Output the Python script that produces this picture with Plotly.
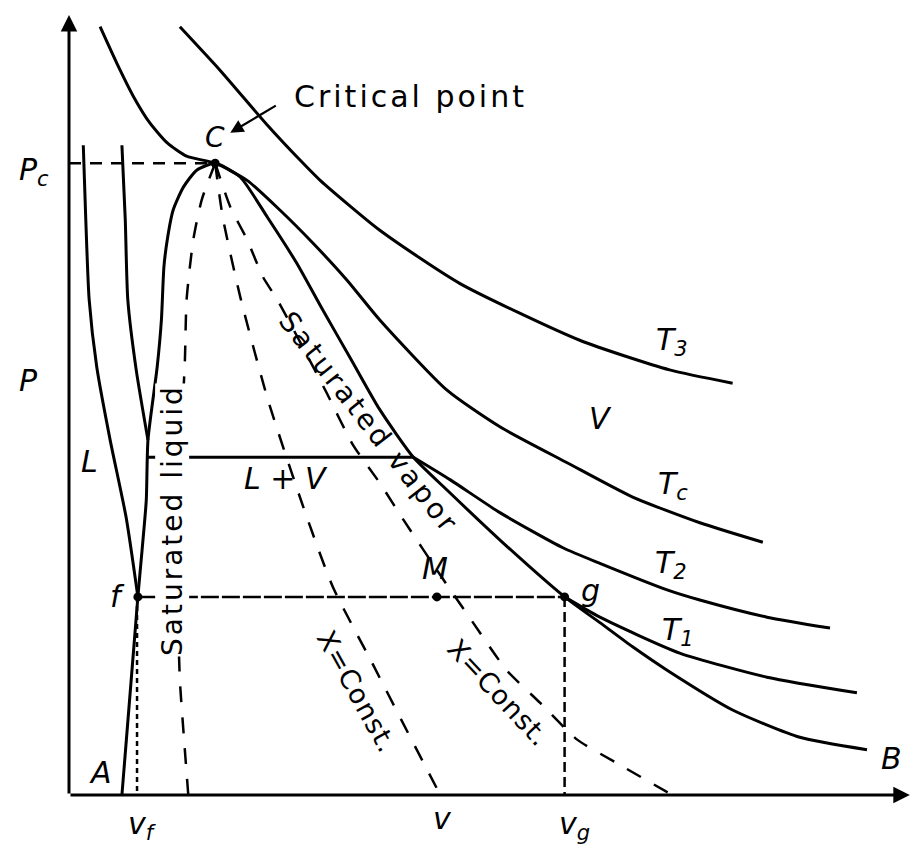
import plotly.graph_objects as go

# ---- isotherms (v, P in arbitrary units) ----
t3_v = [13.2, 18.0, 23.6, 27.5, 29.9, 37.0, 46.5, 60.8, 71.5, 79.0]
t3_p = [98.5, 92.9, 85.9, 81.4, 78.8, 72.4, 65.6, 58.3, 54.5, 52.8]

tc_v = [3.7, 5.7, 7.7, 9.6, 11.7, 14.0, 17.4, 21.2, 25.1, 29.0, 33.1, 37.0,
        45.0, 51.3, 59.3, 67.1, 75.1, 82.6]
tc_p = [98.5, 93.8, 89.5, 86.2, 83.6, 81.9, 81.0, 78.8, 75.0, 70.8, 66.0, 60.9,
        51.9, 47.2, 42.6, 38.2, 34.9, 32.4]

t2_liq_v = [6.3, 6.7, 7.0, 8.0, 9.4]
t2_liq_p = [83.3, 73.7, 63.5, 54.5, 45.5]
t2_flat_v = [9.3, 41.0]
t2_flat_p = [43.3, 43.3]
t2_vap_v = [41.0, 45.4, 51.3, 58.8, 63.2, 71.2, 75.1, 83.1, 90.6]
t2_vap_p = [43.3, 40.4, 36.2, 31.7, 29.7, 26.3, 25.0, 22.8, 21.4]

t1_liq_v = [1.7, 2.0, 2.4, 3.3, 4.9, 6.8, 8.2]
t1_liq_p = [83.3, 73.7, 63.5, 54.9, 45.5, 35.6, 25.4]
t1_flat_v = [8.2, 59.0]
t1_flat_p = [25.4, 25.4]
t1_vap_v = [59.0, 63.2, 72.7, 83.1, 93.8]
t1_vap_p = [25.4, 22.8, 18.2, 15.1, 13.1]

# ---- saturation dome A -> C -> B ----
dome_v = [6.3, 8.2, 8.7, 9.2, 9.4, 10.5, 11.0, 11.3, 11.7, 12.4, 13.6, 15.2,
          17.4, 20.4, 23.6, 27.1, 30.2, 33.5, 37.0, 41.0, 45.0, 51.7, 59.0,
          63.2, 67.1, 71.2, 79.0, 87.0, 95.0]
dome_p = [0.0, 25.4, 31.4, 37.8, 45.5, 54.9, 60.9, 67.7, 71.2, 75.0, 77.9, 80.1,
          81.0, 79.2, 74.1, 68.2, 62.2, 56.0, 49.4, 43.3, 39.1, 32.3, 25.4,
          22.1, 19.0, 16.0, 10.9, 7.4, 5.8]

# ---- constant-quality lines from the critical point ----
xa_v = [17.4, 15.8, 14.8, 14.0, 13.8, 13.3, 13.0, 13.0, 13.2, 13.7, 14.2]
xa_p = [81.0, 76.3, 71.2, 63.5, 55.8, 44.3, 31.4, 22.4, 14.7, 7.1, 0.0]
xb_v = [17.4, 18.3, 20.4, 23.7, 27.9, 31.4, 36.1, 40.2, 44.2]
xb_p = [81.0, 74.1, 63.8, 50.6, 36.9, 26.7, 16.9, 8.3, 0.0]
xc_v = [17.4, 19.2, 21.2, 23.1, 24.8, 27.5, 30.7, 33.8, 37.0, 39.8, 44.2,
        48.1, 52.1, 56.1, 60.5, 65.2, 71.8]
xc_p = [81.0, 75.4, 71.2, 66.4, 63.5, 58.1, 51.5, 44.9, 40.0, 35.3, 28.2,
        22.1, 16.0, 11.8, 7.1, 4.1, 0.0]

# ---- key states ----
crit_v, crit_p = 17.4, 81.0
vf, vg, v_mix, p_sat1 = 8.2, 59.0, 43.8, 25.4

BLACK = "black"
FONT = "DejaVu Sans"

fig = go.Figure()


def curve(v, p, width=3, dash="solid", smooth=True):
    fig.add_trace(go.Scatter(
        x=v, y=p, mode="lines", hoverinfo="skip",
        line=dict(color=BLACK, width=width, dash=dash,
                  shape="spline" if smooth else "linear", smoothing=0.6)))


# isotherms and dome
curve(t3_v, t3_p)
curve(tc_v, tc_p)
curve(dome_v, dome_p)
curve(t2_liq_v, t2_liq_p)
curve(t2_flat_v, t2_flat_p, smooth=False)
curve(t2_vap_v, t2_vap_p)
curve(t1_liq_v, t1_liq_p)
curve(t1_flat_v, t1_flat_p, width=2.5, dash="18px,3px", smooth=False)
curve(t1_vap_v, t1_vap_p)

# quality lines
for qv, qp in [(xa_v, xa_p), (xb_v, xb_p), (xc_v, xc_p)]:
    curve(qv, qp, width=2.5, dash="16px,15px")

# guide lines to the axes
curve([0, crit_v], [crit_p, crit_p], width=2.5, dash="12px,9px", smooth=False)
curve([vf - 0.1, vf - 0.1], [p_sat1, 0], width=2.5, dash="5px,4px", smooth=False)
curve([vg, vg], [p_sat1, 0], width=2.5, dash="10px,5px", smooth=False)

# state points
fig.add_trace(go.Scatter(
    x=[crit_v, vf, vg, v_mix], y=[crit_p, p_sat1, p_sat1, p_sat1],
    mode="markers", hoverinfo="skip",
    marker=dict(color=BLACK, size=9)))

ann = []


def label(text, v, p, size=30, angle=0, xanchor="center", bg=None, italic=True):
    ann.append(dict(
        x=v, y=p, xref="x", yref="y", text=f"<i>{text}</i>" if italic else text,
        showarrow=False, textangle=angle, xanchor=xanchor, yanchor="middle",
        font=dict(family=FONT, size=size, color=BLACK),
        bgcolor=bg, borderpad=0))


# axes with arrowheads
for hx, hy in [(0, 100.0), (100.1, 0)]:
    ann.append(dict(x=hx, y=hy, ax=0, ay=0, xref="x", yref="y", axref="x", ayref="y",
                    text="", showarrow=True, arrowhead=2, arrowsize=1.1,
                    arrowwidth=3, arrowcolor=BLACK, standoff=0, startstandoff=0))

# pointer to the critical point
ann.append(dict(x=19.2, y=84.9, ax=24.8, ay=88.5, xref="x", yref="y",
                axref="x", ayref="y", text="", showarrow=True, arrowhead=2,
                arrowsize=1.2, arrowwidth=2.2, arrowcolor=BLACK, standoff=0))

label('<span style="letter-spacing:3px">Critical point</span>', 26.7, 89.6,
      size=30, xanchor="left", italic=False)
label('<span style="letter-spacing:3px">Saturated liquid</span>', 12.3, 35.3,
      size=28, angle=-90, bg="white", italic=False)
label('<span style="letter-spacing:3px">Saturated vapor</span>', 35.7, 47.8,
      size=28, angle=52, italic=False)
label('<span style="letter-spacing:1px">X=Const.</span>', 34.3, 13.3,
      size=27, angle=61, italic=False)
label('<span style="letter-spacing:1px">X=Const.</span>', 51.1, 13.1,
      size=27, angle=47, italic=False)

label("C", 17.4, 84.3, size=28)
label("P<sub>c</sub>", -6.1, 79.9, size=30, xanchor="left")
label("P", -4.8, 53.2)
label("L", 2.4, 42.7)
label("L + V", 25.8, 40.6)
label("V", 63.3, 48.3)
label("M", 43.6, 29.1)
label("f", 5.8, 25.4)
label("g", 62.1, 26.2)
label("A", 3.8, 2.9)
label("B", 97.9, 4.7)
label("T<sub>3</sub>", 71.8, 58.1)
label("T<sub>c</sub>", 71.9, 39.7)
label("T<sub>2</sub>", 71.7, 29.6)
label("T<sub>1</sub>", 72.5, 21.0)
label("v<sub>f</sub>", 8.7, -3.9)
label("v", 44.5, -3.0)
label("v<sub>g</sub>", 60.2, -3.9)

fig.update_layout(
    width=912, height=847, autosize=False,
    margin=dict(l=0, r=0, t=0, b=0),
    paper_bgcolor="white", plot_bgcolor="white",
    showlegend=False,
    xaxis=dict(range=[-8.214, 100.357], visible=False, fixedrange=True),
    yaxis=dict(range=[-6.667, 101.923], visible=False, fixedrange=True),
    annotations=ann,
)

fig.write_html("out.html")
